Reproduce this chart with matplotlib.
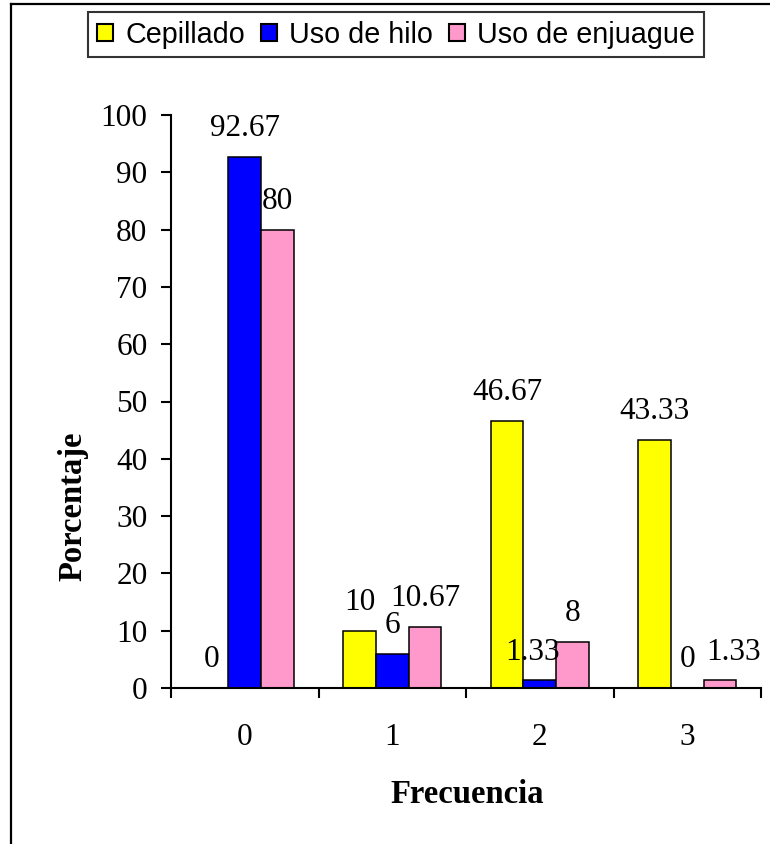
import numpy as np
import matplotlib
matplotlib.use('Agg')
import matplotlib.pyplot as plt
from matplotlib.lines import Line2D

categories = ['0', '1', '2', '3']
series_names = ['Cepillado', 'Uso de hilo', 'Uso de enjuague']
cepillado = [0, 10, 46.67, 43.33]
hilo = [92.67, 6, 1.33, 0]
enjuague = [80, 10.67, 8, 1.33]
colors = ['#FFFF00', '#0000FF', '#FF99CC']

serif = 'Liberation Serif'

# small horizontal nudges (points) for crowded labels: (series, category) -> dx
nudge = {(1, 2): -5, (2, 3): 9.5}

fig = plt.figure(figsize=(7.7, 8.44), dpi=100)
ax = fig.add_axes([171 / 770, 1 - 688 / 844, 590 / 770, 573 / 844])

x = np.arange(len(categories))
w = 1 / 4.5
series = [cepillado, hilo, enjuague]
handles = []
for i, (vals, col) in enumerate(zip(series, colors)):
    pos = x + (i - 1) * w
    bars = ax.bar(pos, vals, width=w, color=col, edgecolor='black',
                  linewidth=1.1, label=series_names[i])
    handles.append(bars)
    for j, (px, v) in enumerate(zip(pos, vals)):
        ax.annotate(f'{v:g}', (px, v), xytext=(nudge.get((i, j), 0), 15),
                    textcoords='offset points',
                    ha='center', va='baseline', fontsize=22.5, family=serif)

ax.set_xlim(-0.5, 3.5)
ax.set_ylim(0, 100)
ax.set_yticks(np.arange(0, 101, 10))
ax.set_xticks(x)
ax.set_xticklabels(categories)
ax.set_xticks(np.arange(-0.5, 3.6, 1), minor=True)

for s in ['top', 'right']:
    ax.spines[s].set_visible(False)
for s in ['left', 'bottom']:
    ax.spines[s].set_linewidth(1.5)

ax.tick_params(axis='x', which='major', length=0, pad=25, labelsize=22.5)
ax.tick_params(axis='x', which='minor', length=7, width=1.5, direction='out')
ax.tick_params(axis='y', length=7, width=1.5, direction='out', pad=10, labelsize=22.5)
for lab in ax.get_xticklabels() + ax.get_yticklabels():
    lab.set_family(serif)

fig.text(73 / 770, 1 - 506 / 844, 'Porcentaje', rotation=90, ha='center', va='center',
         fontsize=23.5, fontweight='bold', family=serif)
fig.text(467 / 770, 1 - 803 / 844, 'Frecuencia', ha='center', va='baseline',
         fontsize=23.5, fontweight='bold', family=serif)

leg = fig.legend(handles=handles, loc='upper left', bbox_to_anchor=(88 / 770, 1 - 12 / 844),
                 ncol=3, frameon=True, fancybox=False, shadow=False,
                 prop={'family': 'Liberation Sans', 'size': 20.7},
                 handlelength=0.57, handleheight=0.57, handletextpad=0.42,
                 columnspacing=0.55, borderpad=0.3, borderaxespad=0)
leg.get_frame().set_edgecolor('black')
leg.get_frame().set_linewidth(1.5)
for p in leg.get_patches():
    p.set_linewidth(1.5)

# outer frame (left and top edges)
fy = 1 - 4 / 844
fx = 11 / 770
fig.add_artist(Line2D([fx, fx], [0, fy], transform=fig.transFigure, color='black', linewidth=1.6))
fig.add_artist(Line2D([fx, 1], [fy, fy], transform=fig.transFigure, color='black', linewidth=1.6))

fig.savefig('out.png', dpi=100)
